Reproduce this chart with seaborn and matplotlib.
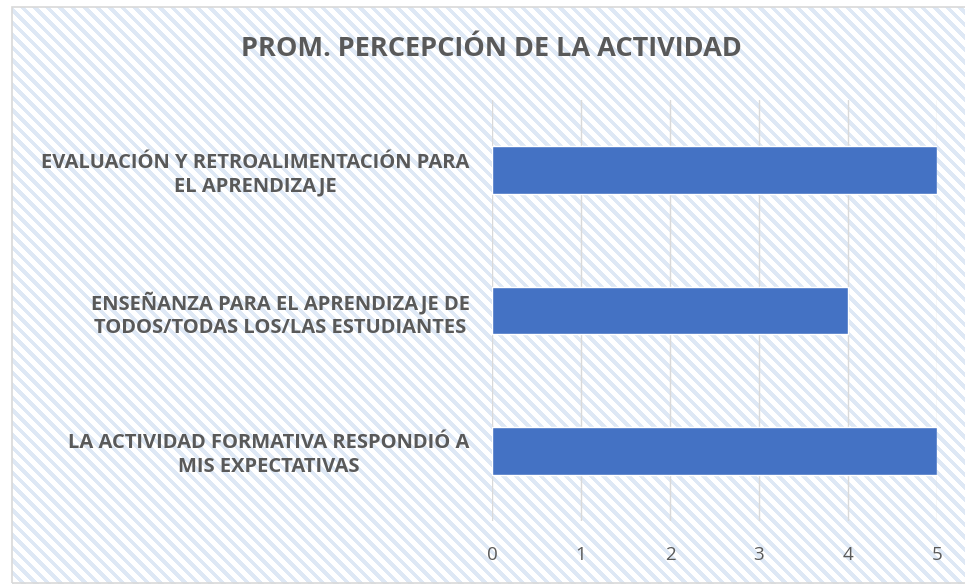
import matplotlib
matplotlib.use("Agg")
import matplotlib.pyplot as plt
import seaborn as sns
import pandas as pd
import numpy as np
from matplotlib.patches import Rectangle

# Datos del grafico
categorias = [
    "EVALUACIÓN Y RETROALIMENTACIÓN PARA\nEL APRENDIZAJE",
    "ENSEÑANZA PARA EL APRENDIZAJE DE\nTODOS/TODAS LOS/LAS ESTUDIANTES",
    "LA ACTIVIDAD FORMATIVA RESPONDIÓ A\nMIS EXPECTATIVAS",
]
promedios = [5, 4, 5]
ticks_x = [0, 1, 2, 3, 4, 5]
titulo = "PROM. PERCEPCIÓN DE LA ACTIVIDAD"

df = pd.DataFrame({"categoria": categorias, "promedio": promedios})

sns.set_theme(style="white")
plt.rcParams["font.family"] = ["Open Sans", "DejaVu Sans"]

W, H = 965, 584
fig = plt.figure(figsize=(W / 100, H / 100), dpi=100)
fig.patch.set_facecolor("white")

# fondo rayado (diagonal hacia abajo) dentro del marco del grafico
yy, xx = np.mgrid[0:H, 0:W]
raya = ((xx - yy) % 12.5) < 5.5
fondo = np.ones((H, W, 3))
fondo[raya] = np.array([0xde, 0xe8, 0xf5]) / 255
fondo[:, :12] = 1.0
fondo[:7, :] = 1.0
fig.figimage(fondo, xo=0, yo=0, origin="upper", zorder=-3)
borde = Rectangle((12 / W, 1 / H), 1.0, 1 - 8 / H, transform=fig.transFigure,
                  facecolor="none", edgecolor="#d9d9d9", linewidth=1.2, zorder=-1)
fig.patches.append(borde)

ax = fig.add_axes([492 / W, 1 - 521 / H, 445 / W, 421 / H])
ax.set_facecolor("none")

sns.barplot(data=df, x="promedio", y="categoria", orient="h", color="#4472C4",
            width=0.34, saturation=1, ax=ax, zorder=3)

ax.set_xlim(0, 5)
ax.set_xticks(ticks_x)
ax.set_ylim(2.5, -0.5)
ax.grid(axis="x", color="#d9d9d9", linewidth=1.0, zorder=0)
ax.set_axisbelow(True)
sns.despine(ax=ax, left=True, bottom=True)
ax.set_xlabel("")
ax.set_ylabel("")

ax.tick_params(axis="x", length=0, pad=18, labelsize=13.5, labelcolor="#595959")
ax.tick_params(axis="y", length=0, pad=16, labelsize=14.5, labelcolor="#595959")
for lbl in ax.get_yticklabels():
    lbl.set_fontweight("bold")
    lbl.set_multialignment("center")
    lbl.set_linespacing(1.25)

fig.text(491 / W, 1 - 49 / H, titulo, ha="center", va="center",
         fontsize=19.5, fontweight="bold", color="#595959")

fig.savefig("out.png", dpi=100)
